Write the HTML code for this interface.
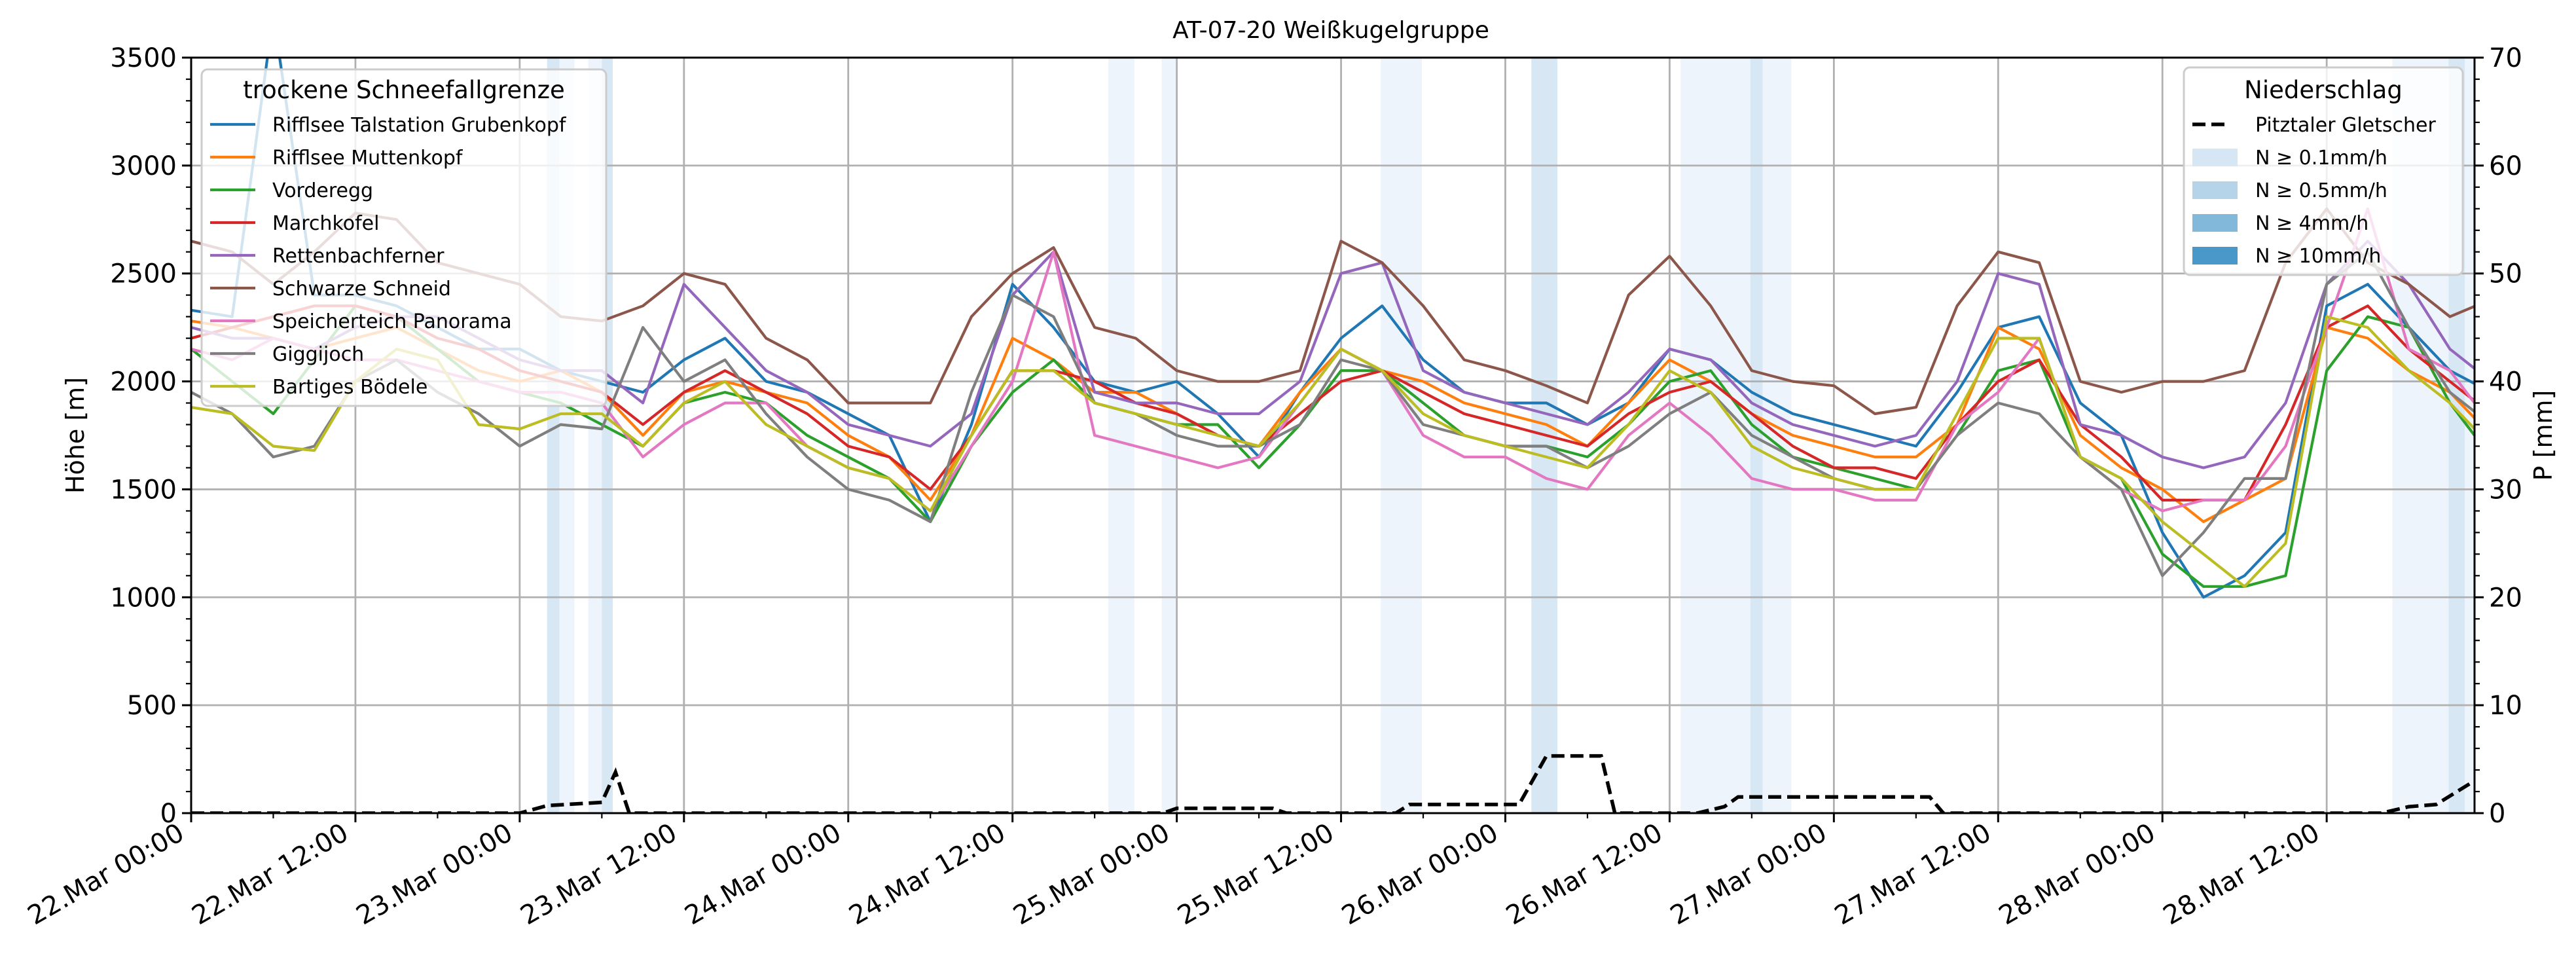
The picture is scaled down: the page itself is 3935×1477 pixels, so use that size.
<!DOCTYPE html>
<html><head><meta charset="utf-8"><style>
html,body{margin:0;padding:0;background:#fff;}
svg{display:block;font-family:"DejaVu Sans","Liberation Sans",sans-serif;}
</style></head><body>
<svg id="chart" width="3935" height="1477" viewBox="0 0 3935 1477" xmlns="http://www.w3.org/2000/svg">
<defs><clipPath id="plotclip"><rect x="292" y="88" width="3488" height="1154"/></clipPath></defs>
<rect x="0" y="0" width="3935" height="1477" fill="#fff"/>
<text x="2033" y="58" text-anchor="middle" font-size="36">AT-07-20 Weißkugelgruppe</text>
<g id="bands" clip-path="url(#plotclip)"></g>
<g id="grid"></g>
<g id="series" clip-path="url(#plotclip)"></g>
<g id="axes"></g>
<text transform="translate(128,665) rotate(-90)" text-anchor="middle" font-size="38">Höhe [m]</text>
<text transform="translate(3898,665) rotate(-90)" text-anchor="middle" font-size="38">P [mm]</text>
<g id="legend1"></g>
<g id="legend2"></g>
</svg>
<script>
const hours = [0,3,6,9,12,15,18,21,24,27,30,33,36,39,42,45,48,51,54,57,60,63,66,69,72,75,78,81,84,87,90,93,96,99,102,105,108,111,114,117,120,123,126,129,132,135,138,141,144,147,150,153,156,159,162,165,168];
const seriesNames = ["Rifflsee Talstation Grubenkopf","Rifflsee Muttenkopf","Vorderegg","Marchkofel","Rettenbachferner","Schwarze Schneid","Speicherteich Panorama","Giggijoch","Bartiges Bödele"];
const seriesColors = ["#1f77b4","#ff7f0e","#2ca02c","#d62728","#9467bd","#8c564b","#e377c2","#7f7f7f","#bcbd22"];
const vBlue = [2330,2300,3700,2400,2400,2350,2250,2150,2150,2050,2000,1950,2100,2200,2000,1950,1850,1750,1350,1800,2450,2250,2000,1950,2000,1850,1650,1950,2200,2350,2100,1950,1900,1900,1800,1900,2150,2100,1950,1850,1800,1750,1700,1950,2250,2300,1900,1750,1300,1000,1100,1300,2350,2450,2250,2050,1950];
const vOrange = [2280,2250,2200,2150,2200,2250,2150,2050,2000,2050,1950,1750,1950,2000,1950,1900,1750,1650,1450,1750,2200,2100,1950,1950,1850,1750,1700,1950,2150,2050,2000,1900,1850,1800,1700,1900,2100,2000,1850,1750,1700,1650,1650,1800,2250,2150,1750,1600,1500,1350,1450,1550,2250,2200,2050,1950,1750];
const vGreen = [2150,2000,1850,2100,2350,2300,2150,2000,1950,1900,1800,1700,1900,1950,1900,1750,1650,1550,1350,1700,1950,2100,1900,1850,1800,1800,1600,1800,2050,2050,1900,1750,1700,1700,1650,1800,2000,2050,1800,1650,1600,1550,1500,1750,2050,2100,1650,1550,1200,1050,1050,1100,2050,2300,2250,1900,1650];
const vRed = [2200,2250,2300,2350,2350,2300,2200,2150,2050,2000,1950,1800,1950,2050,1950,1850,1700,1650,1500,1750,2050,2050,2000,1900,1850,1750,1700,1850,2000,2050,1950,1850,1800,1750,1700,1850,1950,2000,1850,1700,1600,1600,1550,1800,2000,2100,1800,1650,1450,1450,1450,1800,2250,2350,2150,2000,1850];
const vPurple = [2250,2200,2200,2150,2250,2300,2300,2200,2100,2050,2050,1900,2450,2250,2050,1950,1800,1750,1700,1850,2400,2600,1950,1900,1900,1850,1850,2000,2500,2550,2050,1950,1900,1850,1800,1950,2150,2100,1900,1800,1750,1700,1750,2000,2500,2450,1800,1750,1650,1600,1650,1900,2450,2650,2450,2150,2000];
const vBrown = [2650,2600,2450,2600,2780,2750,2550,2500,2450,2300,2280,2350,2500,2450,2200,2100,1900,1900,1900,2300,2500,2620,2250,2200,2050,2000,2000,2050,2650,2550,2350,2100,2050,1980,1900,2400,2580,2350,2050,2000,1980,1850,1880,2350,2600,2550,2000,1950,2000,2000,2050,2550,2800,2550,2450,2300,2380];
const vPink = [2150,2100,2200,2150,2100,2100,2050,2000,1950,1950,1900,1650,1800,1900,1900,1700,1600,1550,1400,1700,2000,2600,1750,1700,1650,1600,1650,1900,2150,2050,1750,1650,1650,1550,1500,1750,1900,1750,1550,1500,1500,1450,1450,1800,1950,2200,1650,1500,1400,1450,1450,1700,2250,2800,2150,2050,1800];
const vGray = [1950,1850,1650,1700,2000,2100,1950,1850,1700,1800,1780,2250,2000,2100,1850,1650,1500,1450,1350,1950,2400,2300,1900,1850,1750,1700,1700,1800,2100,2050,1800,1750,1700,1700,1600,1700,1850,1950,1750,1650,1550,1500,1500,1750,1900,1850,1650,1500,1100,1300,1550,1550,2450,2600,2250,1950,1800];
const vOlive = [1880,1850,1700,1680,2000,2150,2100,1800,1780,1850,1850,1700,1900,2000,1800,1700,1600,1550,1400,1750,2050,2050,1900,1850,1800,1750,1700,1900,2150,2050,1850,1750,1700,1650,1600,1800,2050,1950,1700,1600,1550,1500,1500,1850,2200,2200,1650,1550,1350,1200,1050,1250,2300,2250,2050,1900,1700];
const precipHours = [0,24,26,30,31,32,71,72,79,80,88,89,97,99,103,104,110,112,113,127,128,160,162,164,166.8];
const precipValues = [0,0,0.7,1,3.8,0,0,0.45,0.45,0,0,0.8,0.8,5.3,5.3,0,0,0.6,1.5,1.5,0,0,0.6,0.8,3];
const bandStart = [26,26.9,29,30,67,70.9,86.9,97.9,108.8,113.9,114.8,160.8,164.9,166.1];
const bandEnd =   [26.9,28,30,30.8,68.9,72,89.9,99.8,113.9,114.8,116.9,164.9,166.1,167];
const bandLevel = [1,0,0,1,0,0,0,1,0,1,0,0,1,0];
const yTicks = [0,500,1000,1500,2000,2500,3000,3500];
const y2Ticks = [0,10,20,30,40,50,60,70];
const xTickLabels = ["22.Mar 00:00","22.Mar 12:00","23.Mar 00:00","23.Mar 12:00","24.Mar 00:00","24.Mar 12:00","25.Mar 00:00","25.Mar 12:00","26.Mar 00:00","26.Mar 12:00","27.Mar 00:00","27.Mar 12:00","28.Mar 00:00","28.Mar 12:00"];

const NS="http://www.w3.org/2000/svg";
const L=292,R=3780,T=88,B=1242,HMAX=166.8;
const X=h=>L+(R-L)*h/HMAX;
const Y=v=>B-(B-T)*v/3500;
const Y2=v=>B-(B-T)*v/70;
function mk(tag,attrs,parent){const e=document.createElementNS(NS,tag);for(const k in attrs)e.setAttribute(k,attrs[k]);parent.appendChild(e);return e;}
const bands=document.getElementById('bands'),grid=document.getElementById('grid'),ser=document.getElementById('series'),axes=document.getElementById('axes');
const bandColors=["#eef4fb","#d8e7f4"];
bandStart.forEach((s,i)=>{const r=mk('rect',{x:X(s),y:T,width:X(bandEnd[i])-X(s),height:B-T,fill:bandColors[bandLevel[i]]},bands);

});
xTickLabels.forEach((lab,i)=>{const x=X(i*12);const g=mk('line',{x1:x,x2:x,y1:T,y2:B,stroke:"#b0b0b0","stroke-width":2.8},grid);

});
yTicks.forEach(v=>{const g=mk('line',{x1:L,x2:R,y1:Y(v),y2:Y(v),stroke:"#b0b0b0","stroke-width":2.8},grid);

});
const allVals=[vBlue,vOrange,vGreen,vRed,vPurple,vBrown,vPink,vGray,vOlive];
allVals.forEach((vals,si)=>{const d=vals.map((v,i)=>(i?'L':'M')+X(hours[i]).toFixed(1)+','+Y(v).toFixed(1)).join(' ');
const p=mk('path',{d:d,fill:"none",stroke:seriesColors[si],"stroke-width":4.2,"stroke-linejoin":"round"},ser);

});
const pd=precipHours.map((h,i)=>(i?'L':'M')+X(h).toFixed(1)+','+Y2(precipValues[i]).toFixed(1)).join(' ');
const pp=mk('path',{d:pd,fill:"none",stroke:"#000","stroke-width":5.5,"stroke-dasharray":"20 9"},ser);


const fr=mk('rect',{x:L,y:T,width:R-L,height:B-T,fill:"none",stroke:"#000","stroke-width":3},axes);


for(let v=0;v<=3500;v+=100){const major=v%500===0;mk('line',{x1:L,x2:L-(major?14:8),y1:Y(v),y2:Y(v),stroke:"#000","stroke-width":major?3:2.2},axes);}
yTicks.forEach(v=>{const t=mk('text',{x:L-22,y:Y(v)+14,"text-anchor":"end","font-size":40},axes);t.textContent=v;

});
for(let v=0;v<=70;v+=2){const major=v%10===0;mk('line',{x1:R,x2:R+(major?14:8),y1:Y2(v),y2:Y2(v),stroke:"#000","stroke-width":major?3:2.2},axes);}
y2Ticks.forEach(v=>{const t=mk('text',{x:R+22,y:Y2(v)+14,"text-anchor":"start","font-size":40},axes);t.textContent=v;

});
for(let h=0;h<=HMAX;h+=6){const major=h%12===0;mk('line',{x1:X(h),x2:X(h),y1:B,y2:B+(major?14:8),stroke:"#000","stroke-width":major?3:2.2},axes);}
xTickLabels.forEach((lab,i)=>{const x=X(i*12);const t=mk('text',{transform:`translate(${x-8},${B+38}) rotate(-30)`,"text-anchor":"end","font-size":40},axes);t.textContent=lab;

});
const l1=document.getElementById('legend1');
mk('rect',{x:308,y:106,width:618,height:514,rx:9,fill:"#fff","fill-opacity":0.8,stroke:"#cccccc","stroke-width":3},l1);
const t1=mk('text',{x:617,y:150,"text-anchor":"middle","font-size":37},l1);t1.textContent="trockene Schneefallgrenze";


seriesNames.forEach((n,i)=>{const y=190+i*50;
mk('line',{x1:321,x2:390,y1:y,y2:y,stroke:seriesColors[i],"stroke-width":4.2},l1);
const t=mk('text',{x:416,y:y+11,"font-size":30},l1);t.textContent=n;

});
const l2=document.getElementById('legend2');
mk('rect',{x:3336,y:103,width:426,height:317,rx:9,fill:"#fff","fill-opacity":0.8,stroke:"#cccccc","stroke-width":3},l2);
const t2=mk('text',{x:3549,y:150,"text-anchor":"middle","font-size":37},l2);t2.textContent="Niederschlag";


mk('line',{x1:3349,x2:3407,y1:190,y2:190,stroke:"#000","stroke-width":5.5,"stroke-dasharray":"20 9"},l2);
const tp=mk('text',{x:3445,y:201,"font-size":30},l2);tp.textContent="Pitztaler Gletscher";


const patchLabels=["N ≥ 0.1mm/h","N ≥ 0.5mm/h","N ≥ 4mm/h","N ≥ 10mm/h"];
const patchColors=["#d6e6f4","#b6d4e9","#82b8d9","#4a98c9"];
patchLabels.forEach((lab,i)=>{const y=240+i*50;
mk('rect',{x:3349,y:y-13,width:69,height:27,fill:patchColors[i]},l2);
const t=mk('text',{x:3445,y:y+11,"font-size":30},l2);t.textContent=lab;

});
</script>
</body></html>
